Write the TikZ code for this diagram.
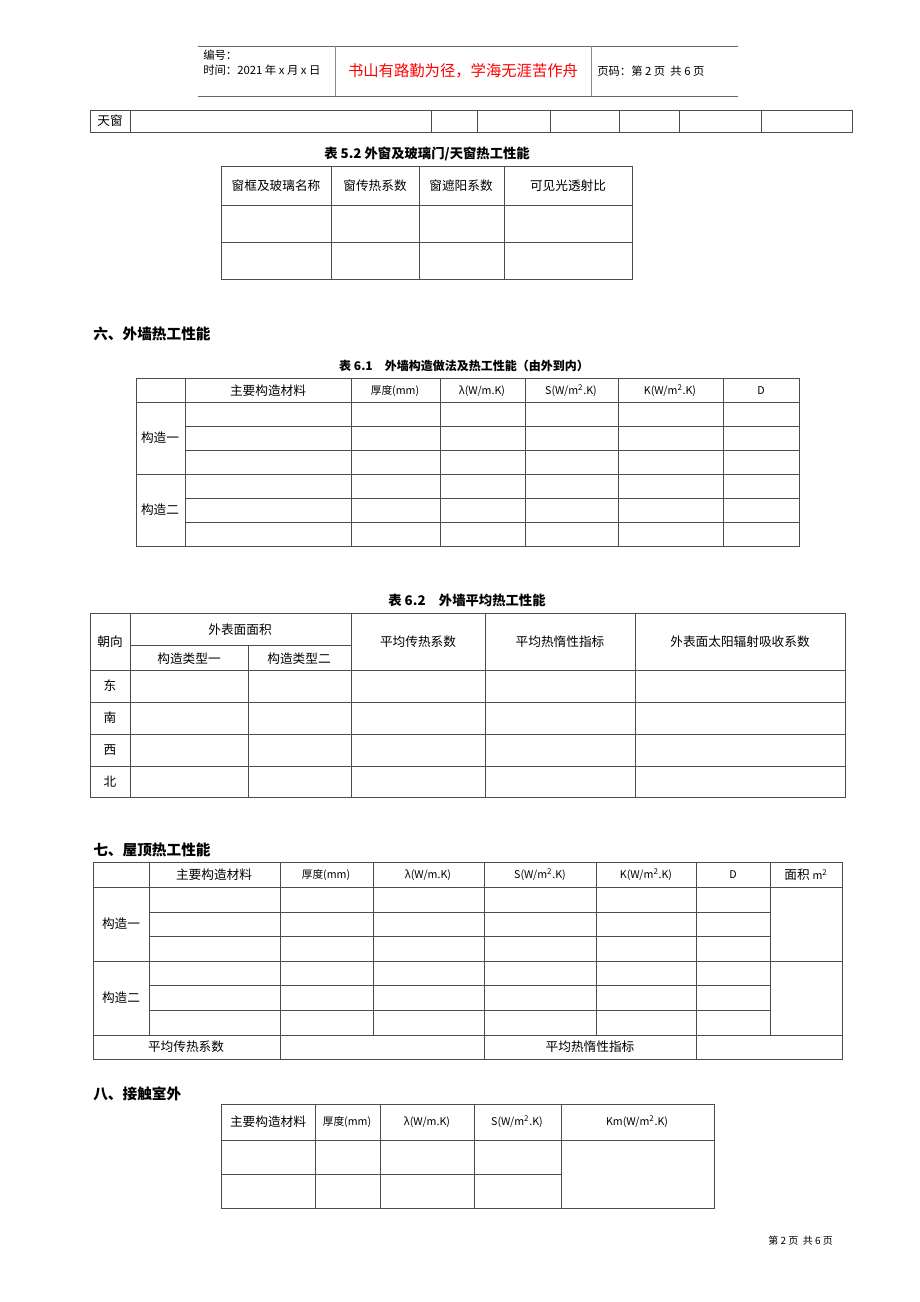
\documentclass[tikz,border=0pt]{standalone}
\usepackage{fontspec}
\newfontfamily\cjk{Noto Sans CJK SC}
\usepackage{tikz}

\tikzset{
  tabline/.style={draw=black!70, line width=0.6pt},
  hdrline/.style={draw=black!60, line width=0.6pt},
  cell/.style={font=\cjk\fontsize{9.5}{11}\selectfont, inner sep=0pt},
  unit/.style={font=\cjk\fontsize{8}{10}\selectfont, inner sep=0pt},
  ttl/.style={font=\cjk\bfseries\fontsize{10}{12}\selectfont, inner sep=0pt},
  sect/.style={font=\cjk\bfseries\fontsize{11}{13}\selectfont, anchor=west, inner sep=0pt},
  small/.style={font=\cjk\fontsize{8.5}{10}\selectfont, anchor=west, inner sep=0pt},
}

\begin{document}
\begin{tikzpicture}[x=0.75pt,y=-0.75pt]
  \useasboundingbox (0,0) rectangle (920,1302);

  % page header
  \draw[hdrline] (198,46) -- (738,46);
  \draw[hdrline] (198,96) -- (738,96);
  \draw[hdrline,draw=black!45] (335,46) -- (335,96);
  \draw[hdrline,draw=black!45] (591,46) -- (591,96);
  \node[small] (bianhao) at (203,55) {编号：};
  \node[small] (shijian) at (203,70) {时间：2021 年 x 月 x 日};
  \node[cell,font=\cjk\fontsize{11.5}{13}\selectfont,text=red] (motto) at (463,71) {书山有路勤为径，学海无涯苦作舟};
  \node[small] (yema) at (597,71) {页码：第 2 页\ \ 共 6 页};

  % skylight row
  \draw[tabline] (90,110) rectangle (852,132);
  \foreach \x in {130,431,477,550,619,679,761}
    \draw[tabline] (\x,110) -- (\x,132);
  \node[cell] (tianchuang) at (110,121) {天窗};

  % table 5.2
  \node[ttl] (t52) at (427,154) {表 5.2 外窗及玻璃门/天窗热工性能};
  \draw[tabline] (221,166) rectangle (632,279);
  \foreach \y in {205,242}
    \draw[tabline] (221,\y) -- (632,\y);
  \foreach \x in {331,419,504}
    \draw[tabline] (\x,166) -- (\x,279);
  \node[cell] (h52a) at (276,186) {窗框及玻璃名称};
  \node[cell] (h52b) at (375,186) {窗传热系数};
  \node[cell] (h52c) at (461,186) {窗遮阳系数};
  \node[cell] (h52d) at (568,186) {可见光透射比};

  % section 6
  \node[sect] (sec6) at (93,334) {六、外墙热工性能};
  \node[ttl,font=\cjk\bfseries\fontsize{9}{11}\selectfont] (t61) at (464,366) {表 6.1\quad 外墙构造做法及热工性能（由外到内）};
  \draw[tabline] (136,378) rectangle (799,546);
  \foreach \y in {402,474}
    \draw[tabline] (136,\y) -- (799,\y);
  \foreach \y in {426,450,498,522}
    \draw[tabline] (185,\y) -- (799,\y);
  \foreach \x in {185,351,440,525,618,723}
    \draw[tabline] (\x,378) -- (\x,546);
  \node[cell] (h61a) at (268,391) {主要构造材料};
  \node[unit] (h61b) at (395,391) {厚度(mm)};
  \node[unit] (h61c) at (482,391) {λ(W/m.K)};
  \node[unit] (h61d) at (571,391) {S(W/m\textsuperscript{2}.K)};
  \node[unit] (h61e) at (670,391) {K(W/m\textsuperscript{2}.K)};
  \node[unit] (h61f) at (761,391) {D};
  \node[cell] (g61a) at (160,438) {构造一};
  \node[cell] (g61b) at (160,510) {构造二};

  % table 6.2
  \node[ttl] (t62) at (467,600) {表 6.2\quad 外墙平均热工性能};
  \draw[tabline] (90,613) rectangle (845,797);
  \draw[tabline] (130,645) -- (351,645);
  \foreach \y in {670,702,734,766}
    \draw[tabline] (90,\y) -- (845,\y);
  \foreach \x in {130,351,485,635}
    \draw[tabline] (\x,613) -- (\x,797);
  \draw[tabline] (248,645) -- (248,797);
  \node[cell] (h62a) at (110,642) {朝向};
  \node[cell] (h62b) at (240,630) {外表面面积};
  \node[cell] (h62c) at (189,659) {构造类型一};
  \node[cell] (h62d) at (299,659) {构造类型二};
  \node[cell] (h62e) at (418,642) {平均传热系数};
  \node[cell] (h62f) at (560,642) {平均热惰性指标};
  \node[cell] (h62g) at (740,642) {外表面太阳辐射吸收系数};
  \foreach \d/\y [count=\i] in {东/686,南/718,西/750,北/782}
    \node[cell] (dir\i) at (110,\y) {\d};

  % section 7
  \node[sect] (sec7) at (93,850) {七、屋顶热工性能};
  \draw[tabline] (93,862) rectangle (842,1059);
  \foreach \y in {887,961,1035}
    \draw[tabline] (93,\y) -- (842,\y);
  \foreach \y in {912,936,985,1010}
    \draw[tabline] (149,\y) -- (770,\y);
  \foreach \x in {149,373,596,770}
    \draw[tabline] (\x,862) -- (\x,1035);
  \foreach \x in {280,484,696}
    \draw[tabline] (\x,862) -- (\x,1059);
  \node[cell] (h7a) at (214,875) {主要构造材料};
  \node[unit] (h7b) at (326,875) {厚度(mm)};
  \node[unit] (h7c) at (428,875) {λ(W/m.K)};
  \node[unit] (h7d) at (540,875) {S(W/m\textsuperscript{2}.K)};
  \node[unit] (h7e) at (646,875) {K(W/m\textsuperscript{2}.K)};
  \node[unit] (h7f) at (733,875) {D};
  \node[cell] (h7g) at (806,875) {面积 {\fontsize{8}{10}\selectfont m\textsuperscript{2}}};
  \node[cell] (g7a) at (121,924) {构造一};
  \node[cell] (g7b) at (121,998) {构造二};
  \node[cell] (avg7a) at (186,1047) {平均传热系数};
  \node[cell] (avg7b) at (590,1047) {平均热惰性指标};

  % section 8
  \node[sect] (sec8) at (93,1094) {八、接触室外};
  \draw[tabline] (221,1104) rectangle (714,1208);
  \draw[tabline] (221,1140) -- (714,1140);
  \draw[tabline] (221,1174) -- (561,1174);
  \foreach \x in {315,380,474,561}
    \draw[tabline] (\x,1104) -- (\x,1208);
  \node[cell] (h8a) at (268,1122) {主要构造材料};
  \node[unit] (h8b) at (347,1122) {厚度(mm)};
  \node[unit] (h8c) at (427,1122) {λ(W/m.K)};
  \node[unit] (h8d) at (517,1122) {S(W/m\textsuperscript{2}.K)};
  \node[unit] (h8e) at (637,1122) {Km(W/m\textsuperscript{2}.K)};

  % page footer
  \node[small,font=\cjk\fontsize{7.5}{9}\selectfont] (footer) at (768,1241) {第\ 2\ 页\ \ 共\ 6\ 页};
\end{tikzpicture}
\end{document}
